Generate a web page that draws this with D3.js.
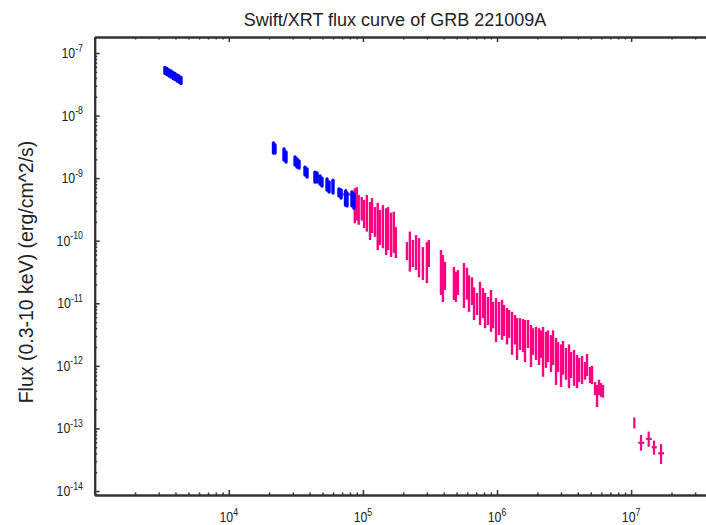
<!DOCTYPE html>
<html>
<head>
<meta charset="utf-8">
<title>Swift/XRT flux curve of GRB 221009A</title>
<script src="https://cdn.jsdelivr.net/npm/d3@7"></script>
<style>
  body { margin: 0; background: #fff; }
  svg { display: block; font-family: "Liberation Sans", Arial, sans-serif; }
  .axis path, .axis line { stroke: #333; }
  .axis path { stroke-width: 2; }
</style>
</head>
<body>
<div id="container"></div>
<script>
//-----------------------------DATA------------------------------//

// WT mode (blue): time since trigger (s), flux error bar ends (erg/cm^2/s)
const wtTime = [3340, 3460, 3580, 3710, 3840, 3970, 4110, 4250, 4400,
    21550, 22100, 25800, 26700, 31200, 32300, 33400, 37000, 38300, 43900, 45500,
    47900, 49500, 54000, 55900, 59800, 66300, 68700, 74200, 76100, 82900, 85800];
const wtFluxHi = [5.86e-8, 5.65e-8, 5.35e-8, 5.16e-8, 4.88e-8, 4.70e-8, 4.45e-8, 4.29e-8, 4.06e-8,
    3.65e-9, 3.39e-9, 2.92e-9, 2.62e-9, 2.18e-9, 2.02e-9, 1.88e-9, 1.50e-9, 1.40e-9, 1.25e-9, 1.21e-9,
    1.08e-9, 1.0e-9, 9.7e-10, 8.7e-10, 9.3e-10, 6.7e-10, 6.45e-10, 6.2e-10, 5.8e-10, 6.0e-10, 5.6e-10];
const wtFluxLo = [4.70e-8, 4.53e-8, 4.29e-8, 4.13e-8, 3.91e-8, 3.77e-8, 3.57e-8, 3.44e-8, 3.25e-8,
    2.52e-9, 2.52e-9, 1.95e-9, 1.81e-9, 1.62e-9, 1.50e-9, 1.45e-9, 1.12e-9, 1.04e-9, 8.7e-10, 8.7e-10,
    8.05e-10, 7.5e-10, 6.45e-10, 6.0e-10, 5.8e-10, 5.2e-10, 4.8e-10, 3.7e-10, 3.6e-10, 3.6e-10, 3.3e-10];

// PC mode (pink): time (s), flux error bar ends
const pcTime = [8.7e4, 9.0e4, 9.3e4, 9.8e4, 1.02e5, 1.07e5, 1.13e5, 1.17e5, 1.23e5, 1.29e5,
    1.34e5, 1.41e5, 1.49e5, 1.54e5, 1.62e5, 1.70e5, 1.76e5,
    2.13e5, 2.24e5, 2.36e5, 2.49e5, 2.62e5, 2.80e5, 3.0e5, 3.1e5,
    3.82e5, 3.95e5, 4.09e5, 4.77e5, 4.94e5, 5.11e5,
    5.67e5, 5.97e5, 6.18e5, 6.51e5, 6.74e5, 7.09e5, 7.47e5, 7.86e5, 8.14e5, 8.57e5,
    9.02e5, 9.34e5, 9.83e5, 1.035e6, 1.09e6, 1.128e6, 1.187e6, 1.229e6, 1.294e6, 1.362e6,
    1.41e6, 1.484e6, 1.563e6, 1.617e6, 1.703e6, 1.792e6, 1.855e6, 1.953e6, 2.057e6, 2.128e6,
    2.203e6, 2.319e6, 2.401e6, 2.527e6, 2.616e6, 2.754e6, 2.851e6, 3.0e6, 3.106e6, 3.269e6,
    3.442e6, 3.563e6, 3.752e6, 3.95e6, 4.089e6, 4.304e6, 4.531e6, 4.69e6, 4.937e6, 5.11e6,
    5.381e6, 5.568e6, 5.763e6, 5.965e6, 6.17e6];
const pcFluxHi = [6.9e-10, 7.2e-10, 5.4e-10, 5.0e-10, 4.5e-10, 5.4e-10, 4.15e-10, 4.8e-10, 3.45e-10, 4.0e-10,
    3.1e-10, 3.7e-10, 3.3e-10, 3.45e-10, 2.8e-10, 2.9e-10, 1.65e-10,
    9.5e-11, 1.4e-10, 1.03e-10, 1.23e-10, 1.1e-10, 7.9e-11, 9.5e-11, 1.03e-10,
    7.1e-11, 5.9e-11, 4.6e-11, 3.8e-11, 3.2e-11, 3.4e-11,
    4.4e-11, 3.7e-11, 2.8e-11, 2.6e-11, 1.8e-11, 1.46e-11, 2.2e-11, 1.75e-11, 1.46e-11, 1.26e-11,
    1.63e-11, 1.05e-11, 1.21e-11, 1.05e-11, 1.14e-11, 9.4e-12, 8.4e-12, 7.8e-12, 7.3e-12, 6.5e-12,
    5.8e-12, 5.8e-12, 5.6e-12, 5.4e-12, 5.4e-12, 4.5e-12, 4.0e-12, 4.2e-12, 4.0e-12, 3.7e-12,
    4.2e-12, 3.5e-12, 3.7e-12, 3.1e-12, 3.7e-12, 2.8e-12, 2.4e-12, 2.2e-12, 2.5e-12, 1.93e-12,
    2.2e-12, 1.67e-12, 1.8e-12, 1.5e-12, 1.34e-12, 1.44e-12, 1.15e-12, 1.55e-12, 9.6e-13, 1.0e-12,
    5.5e-13, 4.95e-13, 6.0e-13, 5.3e-13, 4.95e-13];
const pcFluxLo = [1.9e-10, 2.1e-10, 1.8e-10, 2.1e-10, 1.6e-10, 1.4e-10, 1.03e-10, 1.33e-10, 1.15e-10, 7.1e-11,
    8.5e-11, 7.6e-11, 5.9e-11, 7.1e-11, 5.5e-11, 6.4e-11, 5.3e-11,
    4.9e-11, 3.2e-11, 3.8e-11, 3.4e-11, 2.6e-11, 2.35e-11, 2.1e-11, 3.8e-11,
    1.36e-11, 1.05e-11, 1.63e-11, 1.13e-11, 1.05e-11, 1.36e-11,
    8.4e-12, 1.14e-11, 7.3e-12, 9.4e-12, 5.4e-12, 6.5e-12, 4.5e-12, 5.8e-12, 4.0e-12, 4.5e-12,
    3.5e-12, 4.0e-12, 2.4e-12, 3.1e-12, 2.6e-12, 3.0e-12, 2.2e-12, 2.8e-12, 1.5e-12, 2.2e-12,
    1.24e-12, 1.8e-12, 1.67e-12, 1.15e-12, 1.93e-12, 9.6e-13, 1.5e-12, 1.24e-12, 1.03e-12, 1.34e-12,
    6.7e-13, 9.3e-13, 1.15e-12, 8.0e-13, 1.03e-12, 4.95e-13, 8.0e-13, 4.6e-13, 7.2e-13, 6.0e-13,
    4.4e-13, 6.4e-13, 4.8e-13, 4.4e-13, 5.5e-13, 5.1e-13, 6.0e-13, 6.9e-13, 5.3e-13, 5.1e-13,
    3.4e-13, 2.2e-13, 3.4e-13, 3.2e-13, 3.1e-13];

// PC points with visible time bins
const binTime = [74800, 1.057e7, 1.185e7, 1.352e7, 1.482e7, 1.671e7];
const binTimeLo = [67500, 1.057e7, 1.131e7, 1.292e7, 1.424e7, 1.596e7];
const binTimeHi = [88800, 1.057e7, 1.254e7, 1.424e7, 1.552e7, 1.759e7];
const binFlux = [5.5e-10, 1.23e-13, 5.9e-14, 6.8e-14, 5.0e-14, 4.0e-14];
const binFluxLo = [3.7e-10, 1.0e-13, 4.4e-14, 5.1e-14, 3.8e-14, 2.7e-14];
const binFluxHi = [6.7e-10, 1.5e-13, 7.85e-14, 8.9e-14, 6.4e-14, 5.6e-14];

// tick labels (powers of ten)
const xTickExp = [4, 5, 6, 7];
const yTickExp = [-7, -8, -9, -10, -11, -12, -13, -14];

document.addEventListener("DOMContentLoaded", function () {

    const width = 706;
    const height = 525;
    const plot = { left: 94.7, right: 711.6, top: 37, bottom: 495 };
    const blue = "#0000ff";
    const pink = "#ff0080";

    const svg = d3.select("#container").append("svg")
        .attr("width", width)
        .attr("height", height);

    //----------------------------SCALES-----------------------------//

    const xScale = d3.scaleLog()
        .domain([1e3, Math.pow(10, 7.6)])
        .range([plot.left, plot.right]);

    const yScale = d3.scaleLog()
        .domain([Math.pow(10, -6.744), Math.pow(10, -14.064)])
        .range([plot.top, plot.bottom]);

    // 2..9 x 10^n inside a domain
    function minorTicks(domain) {
        const lo = Math.min(domain[0], domain[1]);
        const hi = Math.max(domain[0], domain[1]);
        const out = [];
        for (let e = Math.floor(Math.log10(lo)); e <= Math.ceil(Math.log10(hi)); e++) {
            for (let m = 2; m <= 9; m++) {
                const v = m * Math.pow(10, e);
                if (v > lo && v < hi) out.push(v);
            }
        }
        return out;
    }

    const xMajor = [3].concat(xTickExp).map(function (e) { return Math.pow(10, e); });
    const yMajor = yTickExp.map(function (e) { return Math.pow(10, e); });

    //-----------------------------AXES------------------------------//

    function drawAxis(axis, transform, values, size) {
        svg.append("g")
            .attr("class", "axis")
            .attr("transform", transform)
            .call(axis.tickValues(values).tickSizeInner(size).tickSizeOuter(0).tickFormat(""))
            .selectAll(".tick line").attr("stroke-width", 1.5);
    }

    drawAxis(d3.axisBottom(xScale), "translate(0," + plot.bottom + ")", xMajor, -5);
    drawAxis(d3.axisBottom(xScale), "translate(0," + plot.bottom + ")", minorTicks(xScale.domain()), -2.5);
    drawAxis(d3.axisTop(xScale), "translate(0," + plot.top + ")", xMajor, -5);
    drawAxis(d3.axisTop(xScale), "translate(0," + plot.top + ")", minorTicks(xScale.domain()), -2.5);
    drawAxis(d3.axisLeft(yScale), "translate(" + plot.left + ",0)", yMajor, -5);
    drawAxis(d3.axisLeft(yScale), "translate(" + plot.left + ",0)", minorTicks(yScale.domain()), -2.5);
    drawAxis(d3.axisRight(yScale), "translate(" + plot.right + ",0)", yMajor, -5);

    // x tick labels: 10 with superscript
    xTickExp.forEach(function (e) {
        const t = svg.append("text")
            .attr("transform", "translate(" + xScale(Math.pow(10, e)) + ",522) scale(0.88,1)")
            .attr("text-anchor", "middle")
            .attr("fill", "#222")
            .style("font-size", "14px");
        t.append("tspan").text("10");
        t.append("tspan").attr("dy", -6.5).style("font-size", "10px").text(e);
    });

    // y tick labels
    yTickExp.forEach(function (e) {
        const t = svg.append("text")
            .attr("transform", "translate(83," + (yScale(Math.pow(10, e)) + 5) + ") scale(0.88,1)")
            .attr("text-anchor", "end")
            .attr("fill", "#222")
            .style("font-size", "14px");
        t.append("tspan").text("10");
        t.append("tspan").attr("dy", -6.5).style("font-size", "10px").text(e);
    });

    svg.append("text")
        .attr("x", 395)
        .attr("y", 26)
        .attr("text-anchor", "middle")
        .attr("fill", "#222")
        .style("font-size", "18px")
        .text("Swift/XRT flux curve of GRB 221009A");

    svg.append("text")
        .attr("transform", "translate(33," + ((plot.top + plot.bottom) / 2 + 6) + ") rotate(-90)")
        .attr("text-anchor", "middle")
        .attr("fill", "#222")
        .style("font-size", "19.5px")
        .text("Flux (0.3-10 keV) (erg/cm^2/s)");

    //----------------------------POINTS-----------------------------//

    svg.append("g").selectAll("line")
        .data(pcTime)
        .enter()
        .append("line")
        .attr("x1", function (d) { return xScale(d); })
        .attr("x2", function (d) { return xScale(d); })
        .attr("y1", function (d, i) { return yScale(pcFluxHi[i]); })
        .attr("y2", function (d, i) { return yScale(pcFluxLo[i]); })
        .attr("stroke", pink)
        .attr("stroke-width", 2.4);

    const bins = svg.append("g").selectAll("g")
        .data(binTime)
        .enter()
        .append("g")
        .attr("stroke", pink)
        .attr("stroke-width", 2.2);

    bins.append("line")
        .attr("x1", function (d) { return xScale(d); })
        .attr("x2", function (d) { return xScale(d); })
        .attr("y1", function (d, i) { return yScale(binFluxHi[i]); })
        .attr("y2", function (d, i) { return yScale(binFluxLo[i]); });

    bins.append("line")
        .attr("x1", function (d, i) { return xScale(binTimeLo[i]); })
        .attr("x2", function (d, i) { return xScale(binTimeHi[i]); })
        .attr("y1", function (d, i) { return yScale(binFlux[i]); })
        .attr("y2", function (d, i) { return yScale(binFlux[i]); });

    svg.append("g").selectAll("line")
        .data(wtTime)
        .enter()
        .append("line")
        .attr("x1", function (d) { return xScale(d); })
        .attr("x2", function (d) { return xScale(d); })
        .attr("y1", function (d, i) { return yScale(wtFluxHi[i]); })
        .attr("y2", function (d, i) { return yScale(wtFluxLo[i]); })
        .attr("stroke", blue)
        .attr("stroke-width", 3.4)
        .attr("stroke-linecap", "round");
});
</script>
</body>
</html>
